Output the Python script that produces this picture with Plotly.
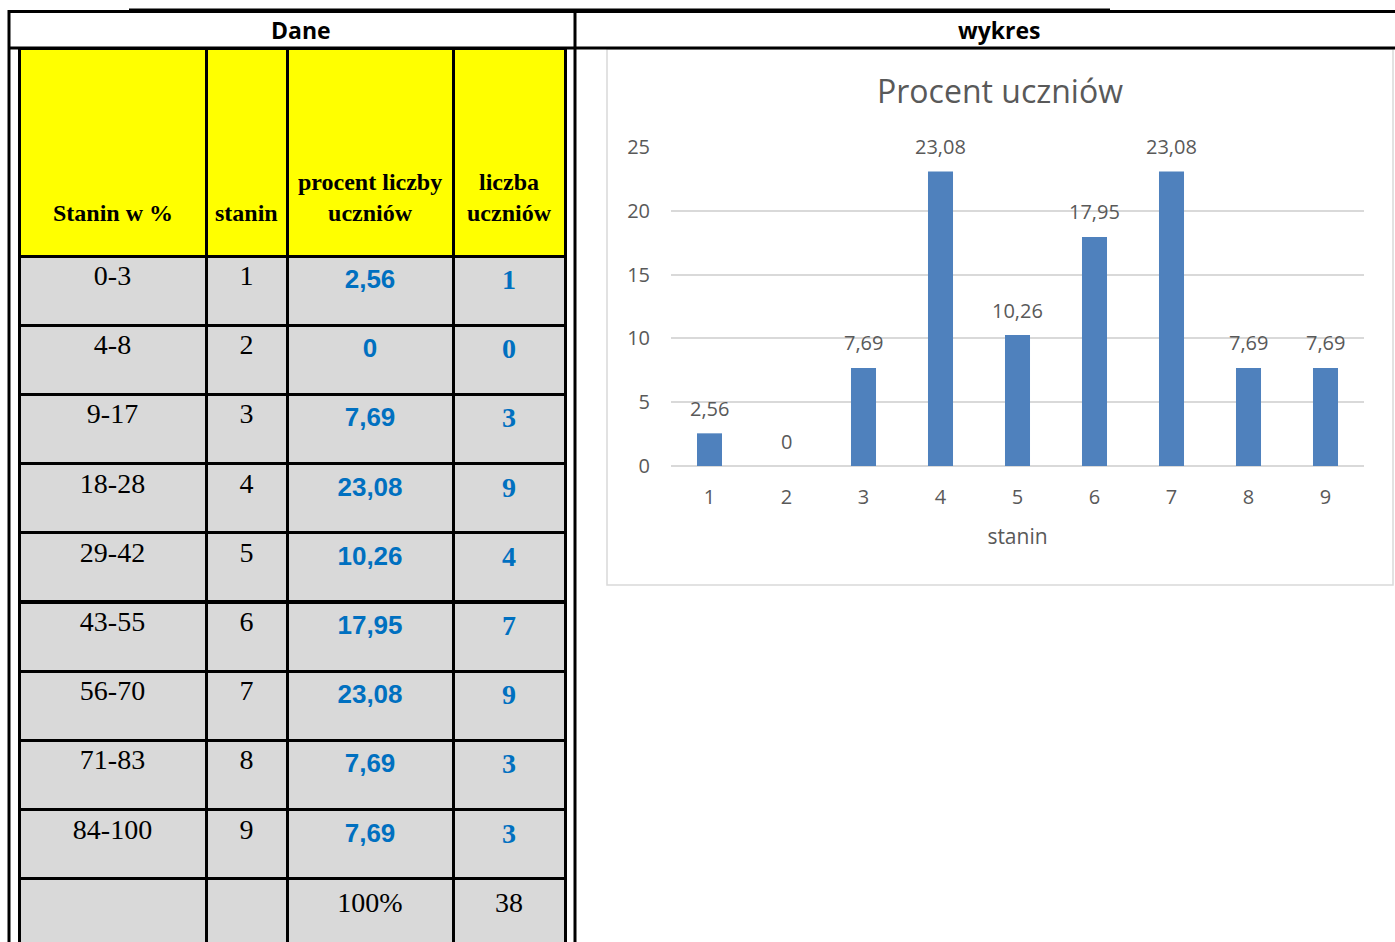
import plotly.graph_objects as go

# ---------------- data ----------------
stanin_ranges = ["0-3", "4-8", "9-17", "18-28", "29-42", "43-55", "56-70", "71-83", "84-100"]
stanin = [1, 2, 3, 4, 5, 6, 7, 8, 9]
percent = [2.56, 0, 7.69, 23.08, 10.26, 17.95, 23.08, 7.69, 7.69]
counts = [1, 0, 3, 9, 4, 7, 9, 3, 3]
total_percent_label = "100%"
total_count_label = "38"
header_labels = ["Stanin w %", "stanin", "procent liczby<br>uczniów", "liczba<br>uczniów"]
y_ticks = [0, 5, 10, 15, 20, 25]

W, H = 1395, 942


def fx(px):
    return px / W


def fy(py):
    return 1 - py / H


def fmt(v):
    if v == 0:
        return "0"
    return f"{v:.2f}".replace(".", ",")


SERIF = "Liberation Serif"
SANS = "Liberation Sans"
BLUE = "#0070C0"
GREY_TXT = "#595959"
CSANS = "Open Sans"

# ---------------- table ----------------
# trailing <br> switches off plotly's automatic word wrapping for these cells
col_a = stanin_ranges + [""]
col_b = [str(s) for s in stanin] + [""]
col_c = [f"<b>{fmt(v)}</b>" for v in percent] + [
    '<span style="font-family:Liberation Serif;font-size:28px;color:black">'
    + total_percent_label + "</span><br>"]
col_d = [f"<b>{c}</b>" for c in counts] + [
    '<span style="color:black">' + total_count_label + "</span><br>"]

col_w = [187, 81, 166, 112]
tbl_x0, tbl_x1 = 19, 565

table = go.Table(
    domain=dict(x=[fx(tbl_x0), fx(tbl_x1)], y=[0, fy(48)]),
    columnwidth=col_w,
    header=dict(
        values=[""] * 4,
        height=208,
        fill_color="#FFFF00",
        line=dict(color="black", width=3),
        align="center",
        font=dict(family=SERIF, size=24, color="black"),
    ),
    cells=dict(
        values=[col_a, col_b, col_c, col_d],
        height=69.2,
        fill_color="#D9D9D9",
        line=dict(color="black", width=3),
        align="center",
        font=dict(family=[SERIF, SERIF, SANS, SERIF], size=[28, 28, 26, 28],
                  color=["black", "black", BLUE, BLUE]),
    ),
)

# ---------------- bar chart ----------------
bars = go.Bar(
    x=stanin,
    y=percent,
    marker=dict(color="#4F81BD", line=dict(width=0)),
    xaxis="x",
    yaxis="y",
    hoverinfo="x+y",
)

fig = go.Figure([table, bars])

annotations = []
for i, v in enumerate(percent):
    annotations.append(dict(
        x=i, y=v, xref="x", yref="y", text=fmt(v), showarrow=False,
        xanchor="center", yanchor="middle", yshift=25,
        font=dict(family=CSANS, size=20, color=GREY_TXT),
    ))

# header labels (bottom-aligned inside the yellow header)
tot = sum(col_w)
acc = 0
for w, lab in zip(col_w, header_labels):
    cx = tbl_x0 + (tbl_x1 - tbl_x0) * (acc + w / 2) / tot
    acc += w
    annotations.append(dict(
        x=fx(cx), y=fy(228), xref="paper", yref="paper", text=f"<b>{lab}</b>",
        showarrow=False, xanchor="center", yanchor="bottom",
        font=dict(family=SERIF, size=24, color="black"),
    ))

annotations += [
    dict(x=fx(301), y=fy(30), xref="paper", yref="paper", text="<b>Dane</b>",
         showarrow=False, xanchor="center", yanchor="middle",
         font=dict(family=CSANS, size=23, color="black")),
    dict(x=fx(999), y=fy(30), xref="paper", yref="paper", text="<b>wykres</b>",
         showarrow=False, xanchor="center", yanchor="middle",
         font=dict(family=CSANS, size=23, color="black")),
]

line_k = dict(color="black", width=3)
shapes = [
    dict(type="line", xref="paper", yref="paper", x0=fx(129), x1=fx(1110), y0=fy(9.5), y1=fy(9.5),
         line=dict(color="black", width=2)),
    dict(type="line", xref="paper", yref="paper", x0=fx(8), x1=fx(1410), y0=fy(11.5), y1=fy(11.5), line=line_k),
    dict(type="line", xref="paper", yref="paper", x0=fx(8), x1=fx(1410), y0=fy(48), y1=fy(48), line=line_k),
    dict(type="line", xref="paper", yref="paper", x0=fx(9), x1=fx(9), y0=fy(10), y1=fy(960), line=line_k),
    dict(type="line", xref="paper", yref="paper", x0=fx(575), x1=fx(575), y0=fy(10), y1=fy(960), line=line_k),
    dict(type="rect", xref="paper", yref="paper", x0=fx(607), x1=fx(1393), y0=fy(49), y1=fy(585),
         line=dict(color="#D9D9D9", width=1.5), layer="below"),
]

fig.update_layout(
    width=W, height=H,
    margin=dict(l=0, r=0, t=0, b=0, autoexpand=False),
    paper_bgcolor="white",
    plot_bgcolor="white",
    showlegend=False,
    bargap=0.675,
    title=dict(text="Procent uczniów", x=fx(1000), y=fy(92), xanchor="center", yanchor="middle",
               xref="paper", yref="paper", automargin=False,
               font=dict(family=CSANS, size=32, color=GREY_TXT)),
    xaxis=dict(
        domain=[fx(671), fx(1364)], anchor="y", type="category", automargin=False,
        range=[-0.5, 8.5], showgrid=False, zeroline=False, showline=False,
        ticks="", ticklabelstandoff=17,
        tickfont=dict(family=CSANS, size=20, color=GREY_TXT),
        title=dict(text="stanin", standoff=20, font=dict(family=CSANS, size=21, color=GREY_TXT)),
    ),
    yaxis=dict(
        domain=[fy(466), fy(147)], anchor="x", range=[0, 25], automargin=False,
        tickvals=y_ticks, showgrid=True, gridcolor="#D9D9D9", gridwidth=1.5,
        zeroline=True, zerolinecolor="#D9D9D9", zerolinewidth=1.5, showline=False,
        ticks="", ticklabelstandoff=20,
        tickfont=dict(family=CSANS, size=20, color=GREY_TXT),
    ),
    annotations=annotations,
    shapes=shapes,
)

fig.write_html(
    "out.html",
    config={"displayModeBar": False},
    post_script="document.body.style.margin='0';document.body.style.overflow='hidden';",
)
